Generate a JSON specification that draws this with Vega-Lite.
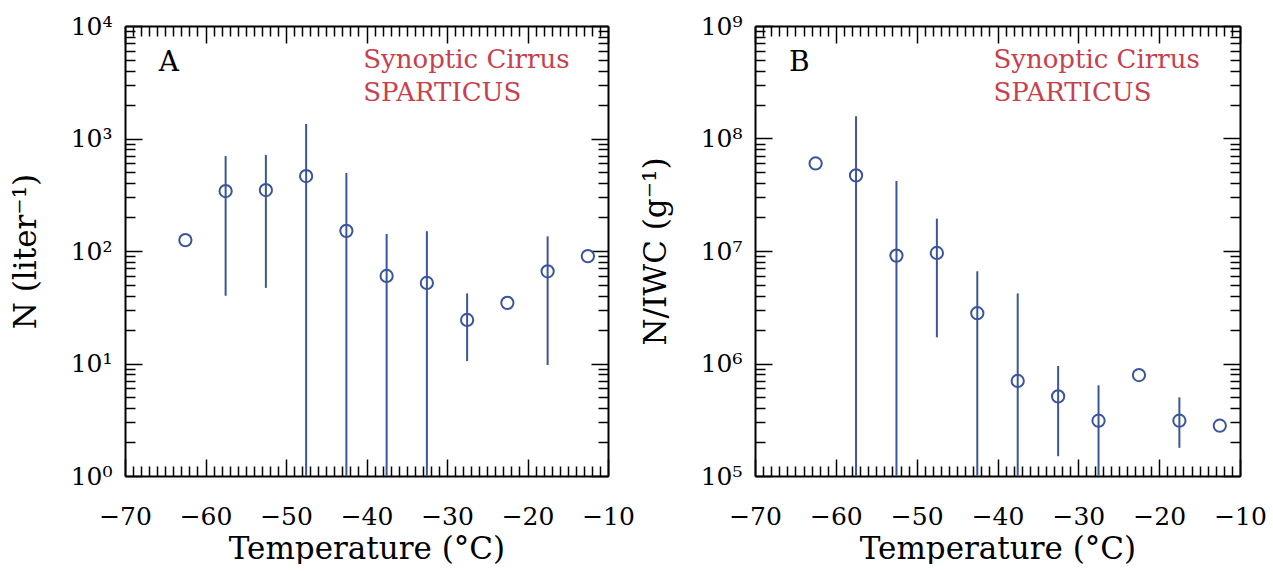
{
  "$schema": "https://vega.github.io/schema/vega-lite/v6.json",
  "background": "white",
  "padding": {"left": 10, "top": 14, "right": 0, "bottom": 0},
  "config": {
    "font": "DejaVu Serif",
    "view": {"stroke": null},
    "axis": {
      "grid": false,
      "domainColor": "black",
      "domainWidth": 2,
      "tickColor": "black",
      "tickWidth": 1.5,
      "labelColor": "black",
      "titleColor": "black",
      "labelFont": "DejaVu Serif",
      "titleFont": "DejaVu Serif",
      "labelFontSize": 25,
      "titleFontSize": 31,
      "titleFontWeight": "normal",
      "labelFlush": false,
      "labelOverlap": false
    },
    "concat": {"spacing": 147}
  },
  "datasets": {
    "A": [
      {"T": -62.5, "val": 125},
      {"T": -57.5, "val": 341, "lo": 40, "hi": 698},
      {"T": -52.5, "val": 348, "lo": 47, "hi": 713},
      {"T": -47.5, "val": 464, "lo": 1, "hi": 1345},
      {"T": -42.5, "val": 151, "lo": 1, "hi": 493},
      {"T": -37.5, "val": 60, "lo": 1, "hi": 142},
      {"T": -32.5, "val": 52, "lo": 1, "hi": 150},
      {"T": -27.5, "val": 24.4, "lo": 10.5, "hi": 42},
      {"T": -22.5, "val": 34.6},
      {"T": -17.5, "val": 66, "lo": 9.7, "hi": 135},
      {"T": -12.5, "val": 90}
    ],
    "B": [
      {"T": -62.5, "val": 60000000},
      {"T": -57.5, "val": 47000000, "lo": 100000, "hi": 158000000},
      {"T": -52.5, "val": 9100000, "lo": 100000, "hi": 42000000},
      {"T": -47.5, "val": 9600000, "lo": 1710000, "hi": 19400000},
      {"T": -42.5, "val": 2800000, "lo": 100000, "hi": 6600000},
      {"T": -37.5, "val": 700000, "lo": 100000, "hi": 4200000},
      {"T": -32.5, "val": 510000, "lo": 150000, "hi": 950000},
      {"T": -27.5, "val": 310000, "lo": 100000, "hi": 640000},
      {"T": -22.5, "val": 790000},
      {"T": -17.5, "val": 310000, "lo": 178000, "hi": 500000},
      {"T": -12.5, "val": 280000}
    ],
    "labA": [{"label": "A", "T": -65.8, "val": 4700}],
    "redA": [
      {"label": "Synoptic Cirrus", "T": -40.4, "val": 4990},
      {"label": "SPARTICUS", "T": -40.4, "val": 2535}
    ],
    "labB": [{"label": "B", "T": -65.8, "val": 470000000}],
    "redB": [
      {"label": "Synoptic Cirrus", "T": -40.5, "val": 499000000},
      {"label": "SPARTICUS", "T": -40.5, "val": 254000000}
    ]
  },
  "bounds": "flush",
  "hconcat": [
    {
      "width": 483,
      "height": 450,
      "resolve": {"axis": {"x": "independent", "y": "independent"}},
      "layer": [
        {
          "data": {"name": "A"},
          "transform": [{"filter": "isValid(datum.hi)"}],
          "mark": {"type": "rule", "color": "#3a559a", "strokeWidth": 2, "clip": true},
          "encoding": {
            "x": {"field": "T", "type": "quantitative", "scale": {"domain": [-70, -10], "nice": false},
              "axis": {"orient": "bottom", "title": "Temperature (°C)", "titlePadding": -2, "labelPadding": 45,
                "values": [-70,-69,-68,-67,-66,-65,-64,-63,-62,-61,-60,-59,-58,-57,-56,-55,-54,-53,-52,-51,-50,-49,-48,-47,-46,-45,-44,-43,-42,-41,-40,-39,-38,-37,-36,-35,-34,-33,-32,-31,-30,-29,-28,-27,-26,-25,-24,-23,-22,-21,-20,-19,-18,-17,-16,-15,-14,-13,-12,-11,-10],
                "labelExpr": "datum.value % 10 === 0 ? format(datum.value, 'd') : ''",
                "tickSize": {"condition": {"test": "datum.value % 10 === 0", "value": -17}, "value": -10}}},
            "y": {"field": "lo", "type": "quantitative", "scale": {"type": "log", "domain": [1, 10000], "nice": false},
              "axis": {"orient": "left", "title": "N (liter⁻¹)", "titlePadding": 28, "labelPadding": 30,
                "values": [1,2,3,4,5,6,7,8,9,10,20,30,40,50,60,70,80,90,100,200,300,400,500,600,700,800,900,1000,2000,3000,4000,5000,6000,7000,8000,9000,10000],
                "labelExpr": "abs(log(datum.value)/LN10 - round(log(datum.value)/LN10)) < 0.000001 ? '10' + ['⁰','¹','²','³','⁴','⁵','⁶','⁷','⁸','⁹'][round(log(datum.value)/LN10)] : ''",
                "tickSize": {"condition": {"test": "abs(log(datum.value)/LN10 - round(log(datum.value)/LN10)) < 0.000001", "value": -17}, "value": -10}}},
            "y2": {"field": "hi"}
          }
        },
        {
          "data": {"name": "A"},
          "mark": {"type": "point", "shape": "circle", "filled": false, "color": "#3a559a", "strokeWidth": 2, "size": 150, "opacity": 1},
          "encoding": {
            "x": {"field": "T", "type": "quantitative",
              "axis": {"orient": "top", "title": null, "labels": false,
                "values": [-70,-69,-68,-67,-66,-65,-64,-63,-62,-61,-60,-59,-58,-57,-56,-55,-54,-53,-52,-51,-50,-49,-48,-47,-46,-45,-44,-43,-42,-41,-40,-39,-38,-37,-36,-35,-34,-33,-32,-31,-30,-29,-28,-27,-26,-25,-24,-23,-22,-21,-20,-19,-18,-17,-16,-15,-14,-13,-12,-11,-10],
                "tickSize": {"condition": {"test": "datum.value % 10 === 0", "value": -17}, "value": -10}}},
            "y": {"field": "val", "type": "quantitative",
              "axis": {"orient": "right", "title": null, "labels": false,
                "values": [1,2,3,4,5,6,7,8,9,10,20,30,40,50,60,70,80,90,100,200,300,400,500,600,700,800,900,1000,2000,3000,4000,5000,6000,7000,8000,9000,10000],
                "tickSize": {"condition": {"test": "abs(log(datum.value)/LN10 - round(log(datum.value)/LN10)) < 0.000001", "value": -17}, "value": -10}}}
          }
        },
        {
          "data": {"name": "labA"},
          "mark": {"type": "text", "align": "left", "baseline": "middle", "fontSize": 28, "color": "black"},
          "encoding": {
            "x": {"field": "T", "type": "quantitative", "axis": null},
            "y": {"field": "val", "type": "quantitative", "axis": null},
            "text": {"field": "label"}
          }
        },
        {
          "data": {"name": "redA"},
          "mark": {"type": "text", "align": "left", "baseline": "middle", "fontSize": 26, "color": "#c8404e"},
          "encoding": {
            "x": {"field": "T", "type": "quantitative", "axis": null},
            "y": {"field": "val", "type": "quantitative", "axis": null},
            "text": {"field": "label"}
          }
        }
      ]
    },
    {
      "width": 485,
      "height": 450,
      "resolve": {"axis": {"x": "independent", "y": "independent"}},
      "layer": [
        {
          "data": {"name": "B"},
          "transform": [{"filter": "isValid(datum.hi)"}],
          "mark": {"type": "rule", "color": "#3a559a", "strokeWidth": 2, "clip": true},
          "encoding": {
            "x": {"field": "T", "type": "quantitative", "scale": {"domain": [-70, -10], "nice": false},
              "axis": {"orient": "bottom", "title": "Temperature (°C)", "titlePadding": -2, "labelPadding": 45,
                "values": [-70,-69,-68,-67,-66,-65,-64,-63,-62,-61,-60,-59,-58,-57,-56,-55,-54,-53,-52,-51,-50,-49,-48,-47,-46,-45,-44,-43,-42,-41,-40,-39,-38,-37,-36,-35,-34,-33,-32,-31,-30,-29,-28,-27,-26,-25,-24,-23,-22,-21,-20,-19,-18,-17,-16,-15,-14,-13,-12,-11,-10],
                "labelExpr": "datum.value % 10 === 0 ? format(datum.value, 'd') : ''",
                "tickSize": {"condition": {"test": "datum.value % 10 === 0", "value": -17}, "value": -10}}},
            "y": {"field": "lo", "type": "quantitative", "scale": {"type": "log", "domain": [100000, 1000000000], "nice": false},
              "axis": {"orient": "left", "title": "N/IWC (g⁻¹)", "titlePadding": 28, "labelPadding": 30,
                "values": [100000,200000,300000,400000,500000,600000,700000,800000,900000,1000000,2000000,3000000,4000000,5000000,6000000,7000000,8000000,9000000,10000000,20000000,30000000,40000000,50000000,60000000,70000000,80000000,90000000,100000000,200000000,300000000,400000000,500000000,600000000,700000000,800000000,900000000,1000000000],
                "labelExpr": "abs(log(datum.value)/LN10 - round(log(datum.value)/LN10)) < 0.000001 ? '10' + ['⁰','¹','²','³','⁴','⁵','⁶','⁷','⁸','⁹'][round(log(datum.value)/LN10)] : ''",
                "tickSize": {"condition": {"test": "abs(log(datum.value)/LN10 - round(log(datum.value)/LN10)) < 0.000001", "value": -17}, "value": -10}}},
            "y2": {"field": "hi"}
          }
        },
        {
          "data": {"name": "B"},
          "mark": {"type": "point", "shape": "circle", "filled": false, "color": "#3a559a", "strokeWidth": 2, "size": 150, "opacity": 1},
          "encoding": {
            "x": {"field": "T", "type": "quantitative",
              "axis": {"orient": "top", "title": null, "labels": false,
                "values": [-70,-69,-68,-67,-66,-65,-64,-63,-62,-61,-60,-59,-58,-57,-56,-55,-54,-53,-52,-51,-50,-49,-48,-47,-46,-45,-44,-43,-42,-41,-40,-39,-38,-37,-36,-35,-34,-33,-32,-31,-30,-29,-28,-27,-26,-25,-24,-23,-22,-21,-20,-19,-18,-17,-16,-15,-14,-13,-12,-11,-10],
                "tickSize": {"condition": {"test": "datum.value % 10 === 0", "value": -17}, "value": -10}}},
            "y": {"field": "val", "type": "quantitative",
              "axis": {"orient": "right", "title": null, "labels": false,
                "values": [100000,200000,300000,400000,500000,600000,700000,800000,900000,1000000,2000000,3000000,4000000,5000000,6000000,7000000,8000000,9000000,10000000,20000000,30000000,40000000,50000000,60000000,70000000,80000000,90000000,100000000,200000000,300000000,400000000,500000000,600000000,700000000,800000000,900000000,1000000000],
                "tickSize": {"condition": {"test": "abs(log(datum.value)/LN10 - round(log(datum.value)/LN10)) < 0.000001", "value": -17}, "value": -10}}}
          }
        },
        {
          "data": {"name": "labB"},
          "mark": {"type": "text", "align": "left", "baseline": "middle", "fontSize": 28, "color": "black"},
          "encoding": {
            "x": {"field": "T", "type": "quantitative", "axis": null},
            "y": {"field": "val", "type": "quantitative", "axis": null},
            "text": {"field": "label"}
          }
        },
        {
          "data": {"name": "redB"},
          "mark": {"type": "text", "align": "left", "baseline": "middle", "fontSize": 26, "color": "#c8404e"},
          "encoding": {
            "x": {"field": "T", "type": "quantitative", "axis": null},
            "y": {"field": "val", "type": "quantitative", "axis": null},
            "text": {"field": "label"}
          }
        }
      ]
    }
  ]
}
